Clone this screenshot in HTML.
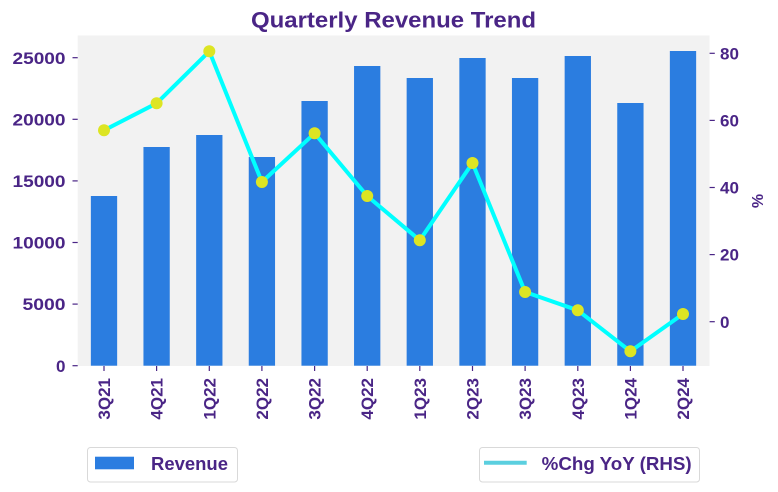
<!DOCTYPE html>
<html><head><meta charset="utf-8"><style>
html,body{margin:0;padding:0;background:#fff;}
svg{display:block;}
text{font-family:"Liberation Sans",sans-serif;fill:#4a2586;font-weight:bold;}
</style></head><body>
<svg width="778" height="492" viewBox="0 0 778 492" xmlns="http://www.w3.org/2000/svg">
<rect x="0" y="0" width="778" height="492" fill="#fff"/>
<text x="393.5" y="27.5" font-size="22" text-anchor="middle" textLength="285" lengthAdjust="spacingAndGlyphs">Quarterly Revenue Trend</text>
<rect x="77.7" y="35.5" width="631.9" height="330.5" fill="#f2f2f2"/>
<g fill="#2b7de0">
<rect x="90.85" y="196" width="26.3" height="169.7"/>
<rect x="143.45" y="147" width="26.3" height="218.7"/>
<rect x="196.15" y="135" width="26.3" height="230.7"/>
<rect x="248.75" y="157" width="26.3" height="208.7"/>
<rect x="301.45" y="101" width="26.3" height="264.7"/>
<rect x="354.05" y="66" width="26.3" height="299.7"/>
<rect x="406.65" y="78" width="26.3" height="287.7"/>
<rect x="459.35" y="58" width="26.3" height="307.7"/>
<rect x="511.95" y="78" width="26.3" height="287.7"/>
<rect x="564.65" y="56" width="26.3" height="309.7"/>
<rect x="617.25" y="103" width="26.3" height="262.7"/>
<rect x="669.85" y="51" width="26.3" height="314.7"/>
</g>
<polyline fill="none" stroke="#00ffff" stroke-width="4" stroke-linejoin="round" points="104,130.3 156.6,103.3 209.3,51.3 261.9,182 314.6,133.3 367.2,196 419.8,240.3 472.5,163 525.1,292 577.8,310.3 630.4,351.3 683,314"/>
<g fill="#dde523">
<circle cx="104" cy="130.3" r="6"/>
<circle cx="156.6" cy="103.3" r="6"/>
<circle cx="209.3" cy="51.3" r="6"/>
<circle cx="261.9" cy="182" r="6"/>
<circle cx="314.6" cy="133.3" r="6"/>
<circle cx="367.2" cy="196" r="6"/>
<circle cx="419.8" cy="240.3" r="6"/>
<circle cx="472.5" cy="163" r="6"/>
<circle cx="525.1" cy="292" r="6"/>
<circle cx="577.8" cy="310.3" r="6"/>
<circle cx="630.4" cy="351.3" r="6"/>
<circle cx="683" cy="314" r="6"/>
</g>
<!-- left ticks -->
<g stroke="#4a2586" stroke-width="1.2">
<line x1="72.5" y1="57.7" x2="77.7" y2="57.7"/>
<line x1="72.5" y1="119.3" x2="77.7" y2="119.3"/>
<line x1="72.5" y1="180.9" x2="77.7" y2="180.9"/>
<line x1="72.5" y1="242.5" x2="77.7" y2="242.5"/>
<line x1="72.5" y1="304.1" x2="77.7" y2="304.1"/>
<line x1="72.5" y1="365.7" x2="77.7" y2="365.7"/>
<line x1="709.6" y1="53.3" x2="714.8" y2="53.3"/>
<line x1="709.6" y1="120.4" x2="714.8" y2="120.4"/>
<line x1="709.6" y1="187.5" x2="714.8" y2="187.5"/>
<line x1="709.6" y1="254.6" x2="714.8" y2="254.6"/>
<line x1="709.6" y1="321.7" x2="714.8" y2="321.7"/>
<line x1="104" y1="366" x2="104" y2="371"/>
<line x1="156.6" y1="366" x2="156.6" y2="371"/>
<line x1="209.3" y1="366" x2="209.3" y2="371"/>
<line x1="261.9" y1="366" x2="261.9" y2="371"/>
<line x1="314.6" y1="366" x2="314.6" y2="371"/>
<line x1="367.2" y1="366" x2="367.2" y2="371"/>
<line x1="419.8" y1="366" x2="419.8" y2="371"/>
<line x1="472.5" y1="366" x2="472.5" y2="371"/>
<line x1="525.1" y1="366" x2="525.1" y2="371"/>
<line x1="577.8" y1="366" x2="577.8" y2="371"/>
<line x1="630.4" y1="366" x2="630.4" y2="371"/>
<line x1="683" y1="366" x2="683" y2="371"/>
</g>
<g font-size="17" text-anchor="end">
<text x="65.5" y="63.8" textLength="53" lengthAdjust="spacingAndGlyphs">25000</text>
<text x="65.5" y="125.4" textLength="53" lengthAdjust="spacingAndGlyphs">20000</text>
<text x="65.5" y="187" textLength="53" lengthAdjust="spacingAndGlyphs">15000</text>
<text x="65.5" y="248.6" textLength="53" lengthAdjust="spacingAndGlyphs">10000</text>
<text x="65.5" y="310.2" textLength="43" lengthAdjust="spacingAndGlyphs">5000</text>
<text x="65.5" y="371.8">0</text>
</g>
<g font-size="17" text-anchor="start">
<text x="720" y="59.4">80</text>
<text x="720" y="126.5">60</text>
<text x="720" y="193.6">40</text>
<text x="720" y="260.7">20</text>
<text x="720" y="327.8">0</text>
</g>
<text font-size="16" font-weight="normal" text-anchor="middle" transform="translate(763,201) rotate(-90)">%</text>
<g font-size="17" text-anchor="end">
<text transform="translate(110,378) rotate(-90)">3Q21</text>
<text transform="translate(162.6,378) rotate(-90)">4Q21</text>
<text transform="translate(215.3,378) rotate(-90)">1Q22</text>
<text transform="translate(267.9,378) rotate(-90)">2Q22</text>
<text transform="translate(320.6,378) rotate(-90)">3Q22</text>
<text transform="translate(373.2,378) rotate(-90)">4Q22</text>
<text transform="translate(425.8,378) rotate(-90)">1Q23</text>
<text transform="translate(478.5,378) rotate(-90)">2Q23</text>
<text transform="translate(531.1,378) rotate(-90)">3Q23</text>
<text transform="translate(583.8,378) rotate(-90)">4Q23</text>
<text transform="translate(636.4,378) rotate(-90)">1Q24</text>
<text transform="translate(689,378) rotate(-90)">2Q24</text>
</g>
<!-- legends -->
<rect x="87.5" y="447.5" width="150" height="34.5" rx="3" fill="#fff" stroke="#d9d9d9" stroke-width="1"/>
<rect x="95" y="456.7" width="39" height="12.6" fill="#2b7de0"/>
<text x="151" y="470" font-size="18" textLength="77" lengthAdjust="spacingAndGlyphs">Revenue</text>
<rect x="479.5" y="447.5" width="220" height="34.5" rx="3" fill="#fff" stroke="#d9d9d9" stroke-width="1"/>
<line x1="484" y1="462.7" x2="526.7" y2="462.7" stroke="#5bcfdf" stroke-width="4"/>
<text x="541.7" y="470" font-size="18" textLength="150" lengthAdjust="spacingAndGlyphs">%Chg YoY (RHS)</text>
</svg>
</body></html>
